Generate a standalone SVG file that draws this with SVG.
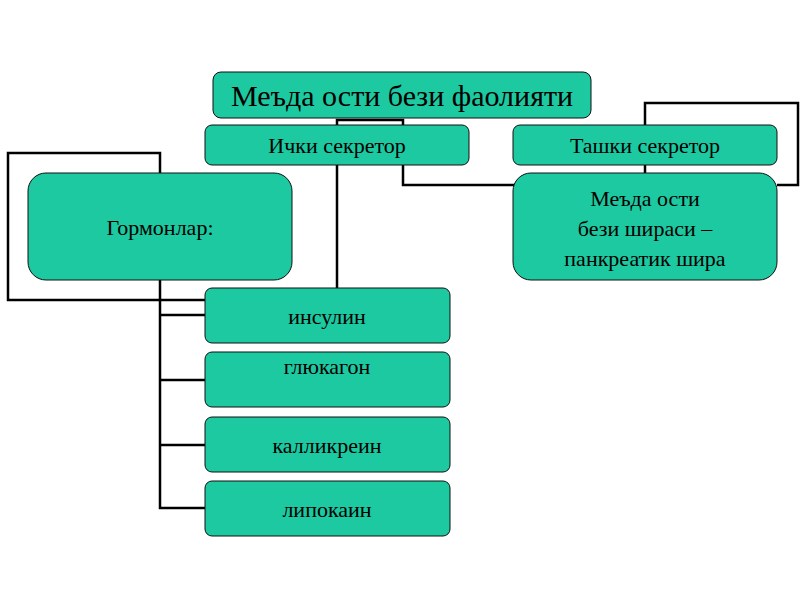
<svg xmlns="http://www.w3.org/2000/svg" width="800" height="600" viewBox="0 0 800 600">
<style>
.b{fill:#1cc9a0;stroke:#111;stroke-width:1}
.t{font-family:"Liberation Serif",serif;font-size:22px;fill:#000;text-anchor:middle}
.l{fill:none;stroke:#000;stroke-width:2.5}
</style>
<rect width="800" height="600" fill="#fff"/>
<g id="connectors">
<polyline class="l" points="337,125 337,120 403,120 403,125"/>
<polyline class="l" points="403,165 403,185 515,185"/>
<line class="l" x1="337" y1="165" x2="337" y2="288"/>
<polyline class="l" points="160,173 160,153 8,153 8,300 205,300"/>
<polyline class="l" points="645,125 645,103 798,103 798,185 777,185"/>
<line class="l" x1="645" y1="165" x2="645" y2="173"/>
<polyline class="l" points="160,280 160,508 205,508"/>
<line class="l" x1="160" y1="315" x2="205" y2="315"/>
<line class="l" x1="160" y1="380" x2="205" y2="380"/>
<line class="l" x1="160" y1="445" x2="205" y2="445"/>
</g>
<g id="title"><rect class="b" x="213" y="72" width="378" height="46" rx="8"/><text class="t" x="402" y="106" style="font-size:30px">Меъда ости бези фаолияти</text></g>
<g id="ichki"><rect class="b" x="205" y="125" width="264" height="40" rx="7"/><text class="t" x="337" y="153">Ички секретор</text></g>
<g id="tashki"><rect class="b" x="513" y="125" width="264" height="40" rx="7"/><text class="t" x="645" y="153">Ташки секретор</text></g>
<g id="gormon"><rect class="b" x="28" y="173" width="264" height="107" rx="18"/><text class="t" x="160" y="235">Гормонлар:</text></g>
<g id="shira"><rect class="b" x="513" y="173" width="264" height="107" rx="18"/><text class="t" x="645" y="206">Меъда ости</text><text class="t" x="645" y="236">бези  шираси –</text><text class="t" x="645" y="266">панкреатик шира</text></g>
<g id="insulin"><rect class="b" x="205" y="288" width="245" height="55" rx="7"/><text class="t" x="327" y="324">инсулин</text></g>
<g id="glukagon"><rect class="b" x="205" y="352" width="245" height="55" rx="7"/><text class="t" x="327" y="374">глюкагон</text></g>
<g id="kallikrein"><rect class="b" x="205" y="417" width="245" height="55" rx="7"/><text class="t" x="327" y="453">калликреин</text></g>
<g id="lipokain"><rect class="b" x="205" y="481" width="245" height="55" rx="7"/><text class="t" x="327" y="517">липокаин</text></g>
</svg>
